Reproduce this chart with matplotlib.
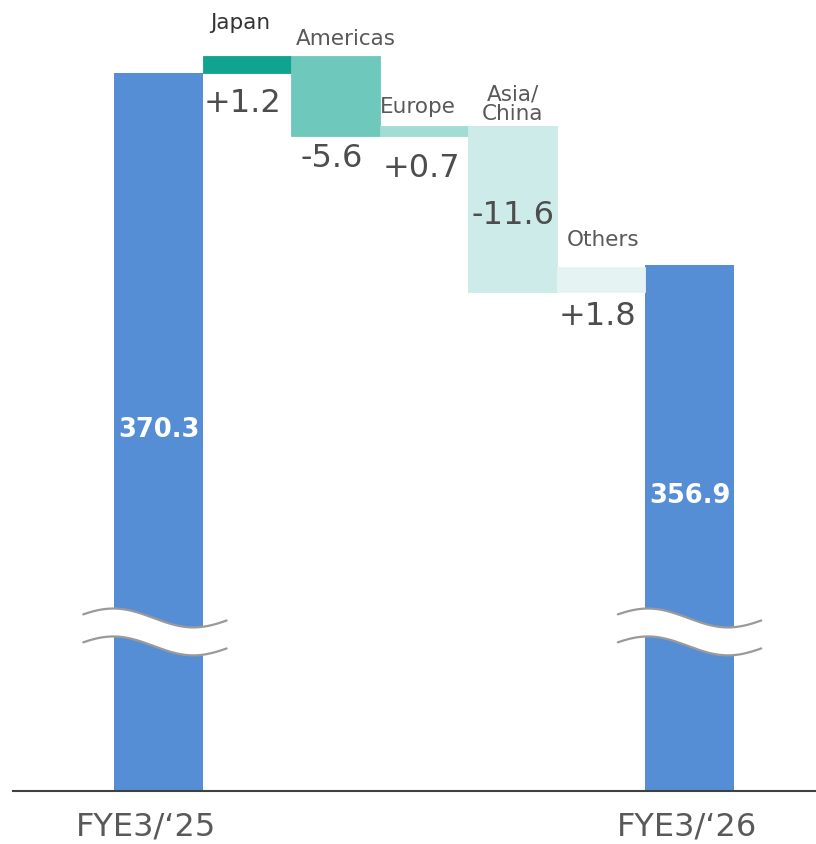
import numpy as np
import matplotlib
matplotlib.use("Agg")
import matplotlib.pyplot as plt
import matplotlib.transforms as mtransforms

# ---------------- data ----------------
start_label = "FYE3/\u201825"
end_label = "FYE3/\u201826"
start_value = 370.3
end_value = 356.9
regions = ["Japan", "Americas", "Europe", "Asia/\nChina", "Others"]
changes = [1.2, -5.6, 0.7, -11.6, 1.8]
change_labels = ["+1.2", "-5.6", "+0.7", "-11.6", "+1.8"]
start_text = "370.3"
end_text = "356.9"

# ---------------- style ----------------
blue = "#558ED5"
region_colors = ["#10A38F", "#6EC8BB", "#A2DCD4", "#CDEBE8", "#E5F4F2"]
text_gray = "#4D4D4D"
name_gray = "#595959"

DPI = 100
fig = plt.figure(figsize=(8.16, 8.44), dpi=DPI)
ax = fig.add_axes([13 / 816, 53 / 844, (816 - 13) / 816, 791 / 844])
ymin, ymax = 320.2, 375.4
ax.set_ylim(ymin, ymax)
ax.set_xlim(-1.644, 7.429)

n = len(changes)
xs = np.arange(n + 2)

# totals
ax.bar(xs[0], start_value - ymin, bottom=ymin, width=1.0, color=blue, zorder=2)
ax.bar(xs[-1], end_value - ymin, bottom=ymin, width=1.0, color=blue, zorder=2)

# waterfall steps
level = start_value
tops, bottoms = [], []
for i, (c, col) in enumerate(zip(changes, region_colors)):
    lo, hi = (level, level + c) if c >= 0 else (level + c, level)
    ax.bar(xs[i + 1], hi - lo, bottom=lo, width=1.0, color=col,
           edgecolor=col, linewidth=0.6, zorder=2)
    tops.append(hi)
    bottoms.append(lo)
    level += c

PT = 72 / DPI  # pixels -> points

def put(x, y, s, dx_px, dy_px, **kw):
    ax.annotate(s, xy=(x, y), xytext=(dx_px * PT, dy_px * PT),
                textcoords="offset points", ha="center", va="baseline",
                annotation_clip=False, **kw)

# region names (offsets in px: dx, baseline above top)
name_off = [(-7, 27), (10, 11), (-6, 13), (0, 6), (2, 21)]
name_cols = ["#333333", name_gray, name_gray, name_gray, name_gray]
for i, name in enumerate(regions):
    dx, dy = name_off[i]
    lines = name.split("\n")
    for k, line in enumerate(reversed(lines)):
        put(xs[i + 1], tops[i], line, dx, dy + 20 * k, fontsize=15.5,
            color=name_cols[i])

# change values
val_pos = [("bottom", -4, -39), ("bottom", -4, -31), ("bottom", -3, -41),
           ("mid", 0, -15), ("bottom", -4, -33)]
for i, lab in enumerate(change_labels):
    ref, dx, dy = val_pos[i]
    y = bottoms[i] if ref == "bottom" else (tops[i] + bottoms[i]) / 2
    put(xs[i + 1], y, lab, dx, dy, fontsize=23, color=text_gray)

# total labels inside bars
put(xs[0], start_value, start_text, 0, -364, fontsize=18.5, color="white",
    fontweight="bold")
put(xs[-1], end_value, end_text, 0, -238, fontsize=18.5, color="white",
    fontweight="bold")

# break marks
brk_y = 331.3
gap = 1.95
amp = 0.66
for xc in (xs[0] - 0.04, xs[-1]):
    t = np.linspace(-0.81, 0.81, 200)
    wave = amp * np.cos(2 * np.pi * (t + 0.81 - 0.34) / 1.81)
    y_up = brk_y + gap / 2 + wave
    y_lo = brk_y - gap / 2 + wave
    ax.fill_between(xc + t, y_lo, y_up, color="white", zorder=3, lw=0)
    ax.plot(xc + t, y_up, color="#9A9A9A", lw=1.6, zorder=4,
            solid_capstyle="round")
    ax.plot(xc + t, y_lo, color="#9A9A9A", lw=1.6, zorder=4,
            solid_capstyle="round")

# axes styling
for s in ("top", "right", "left"):
    ax.spines[s].set_visible(False)
ax.spines["bottom"].set_color("#404040")
ax.spines["bottom"].set_linewidth(1.5)
ax.set_yticks([])
ax.set_xticks([xs[0], xs[-1]])
ax.set_xticklabels([start_label, end_label], fontsize=23, color=name_gray)
ax.tick_params(axis="x", length=0, pad=15)
for lab, dxp in zip(ax.get_xticklabels(), (-13, -3)):
    lab.set_transform(lab.get_transform() +
                      mtransforms.ScaledTranslation(dxp / DPI, 0, fig.dpi_scale_trans))

fig.savefig("out.png", dpi=DPI)
